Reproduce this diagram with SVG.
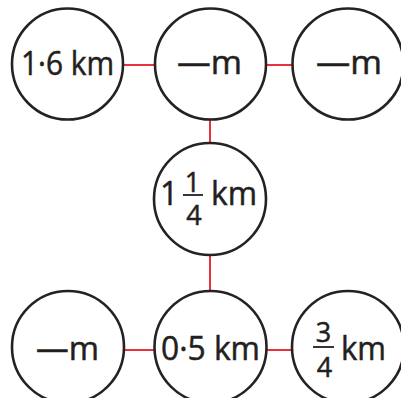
<svg xmlns="http://www.w3.org/2000/svg" width="401" height="398" viewBox="0 0 401 398">
<style>
.n{fill:#fff;stroke:#262223;stroke-width:2.6}
.c{stroke:#e8323e;stroke-width:2}
.t{font-family:"Open Sans","Liberation Sans",sans-serif;font-size:32px;fill:#231f20;stroke:#231f20;stroke-width:0.5}
.f{font-family:"Open Sans","Liberation Sans",sans-serif;font-size:27px;fill:#231f20;stroke:#231f20;stroke-width:0.5;text-anchor:middle}
.b{stroke:#231f20;stroke-width:1.8}
</style>
<g id="connectors">
<line class="c" x1="123" y1="65" x2="155" y2="65"/>
<line class="c" x1="266" y1="65" x2="293" y2="65"/>
<line class="c" x1="210" y1="120" x2="210" y2="143"/>
<line class="c" x1="210" y1="255" x2="210" y2="291"/>
<line class="c" x1="124" y1="350" x2="155" y2="350"/>
<line class="c" x1="266" y1="350" x2="293" y2="350"/>
</g>
<g id="n1">
<circle class="n" cx="67.5" cy="64" r="55.5"/>
<text class="t" x="21" y="75" textLength="93" lengthAdjust="spacingAndGlyphs">1·6 km</text>
</g>
<g id="n2">
<circle class="n" cx="210.5" cy="64" r="55.5"/>
<text class="t" x="177" y="74" textLength="65" lengthAdjust="spacingAndGlyphs">—m</text>
</g>
<g id="n3">
<circle class="n" cx="348" cy="64" r="55.5"/>
<text class="t" x="316" y="74" textLength="66" lengthAdjust="spacingAndGlyphs">—m</text>
</g>
<g id="n4">
<circle class="n" cx="210" cy="199" r="56"/>
<text class="t" x="160" y="205">1</text>
<text class="f" x="192.5" y="192">1</text>
<line class="b" x1="183" y1="195" x2="203" y2="195"/>
<text class="f" x="194" y="225">4</text>
<text class="t" x="211" y="205" textLength="46" lengthAdjust="spacingAndGlyphs">km</text>
</g>
<g id="n5">
<circle class="n" cx="68" cy="347" r="56"/>
<text class="t" x="36" y="360" textLength="63" lengthAdjust="spacingAndGlyphs">—m</text>
</g>
<g id="n6">
<circle class="n" cx="210.5" cy="347" r="56"/>
<text class="t" x="161" y="360" textLength="99" lengthAdjust="spacingAndGlyphs">0·5 km</text>
</g>
<g id="n7">
<circle class="n" cx="348" cy="347" r="56"/>
<text class="f" x="323.5" y="342">3</text>
<line class="b" x1="313" y1="347" x2="334" y2="347"/>
<text class="f" x="324.5" y="377">4</text>
<text class="t" x="341" y="360" textLength="45" lengthAdjust="spacingAndGlyphs">km</text>
</g>
</svg>
